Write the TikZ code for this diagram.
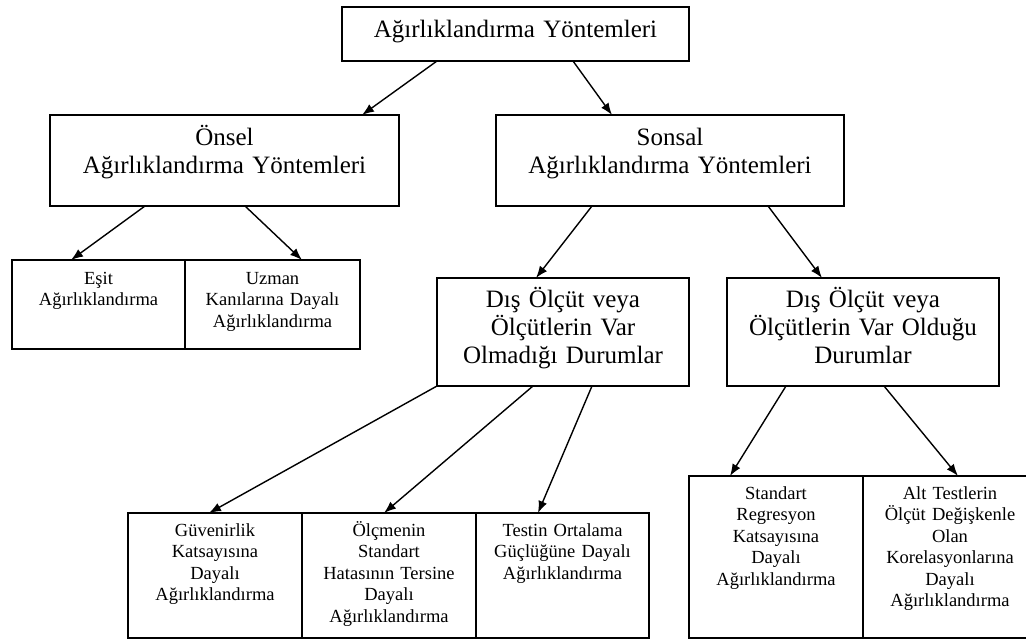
\documentclass[tikz,border=0pt]{standalone}
\usepackage{fontspec}
\setmainfont{Liberation Serif}
\usetikzlibrary{arrows.meta}
\tikzset{
  box/.style={draw, line width=1.5pt, inner sep=0pt, outer sep=0pt, align=center, anchor=north},
  big/.style={box, font=\fontsize{25}{28}\selectfont},
  small/.style={box, font=\fontsize{18.5}{21.5}\selectfont},
  conn/.style={line width=1.4pt, -{Latex[length=12pt,width=9pt]}}
}
\begin{document}
\begin{tikzpicture}[x=1pt,y=-1pt]
\useasboundingbox (0,0) rectangle (1026,640);
\clip (0,0) rectangle (1026,640);
% level 0
\node[big, text width=347pt, text height=30pt, text depth=24pt] (top) at (515.5,7) {Ağırlıklandırma Yöntemleri};
% level 1
\node[big, text width=349pt, text height=30pt, text depth=61pt] (onsel) at (224.5,115) {Önsel\\Ağırlıklandırma Yöntemleri};
\node[big, text width=348pt, text height=30pt, text depth=61pt] (sonsal) at (670,115) {Sonsal\\Ağırlıklandırma Yöntemleri};
% level 2 left
\node[small, text width=173pt, text height=24pt, text depth=65pt] (esit) at (98.5,260) {Eşit\\Ağırlıklandırma};
\node[small, text width=175pt, text height=24pt, text depth=65pt] (uzman) at (272.5,260) {Uzman\\Kanılarına Dayalı\\Ağırlıklandırma};
% level 2 right
\node[big, text width=252pt, text height=29pt, text depth=79pt] (dis1) at (563,278) {Dış Ölçüt veya\\Ölçütlerin Var\\Olmadığı Durumlar};
\node[big, text width=272pt, text height=29pt, text depth=79pt] (dis2) at (863,278) {Dış Ölçüt veya\\Ölçütlerin Var Olduğu\\Durumlar};
% level 3
\node[small, text width=174pt, text height=23pt, text depth=102pt] (guv) at (215,513) {Güvenirlik\\Katsayısına\\Dayalı\\Ağırlıklandırma};
\node[small, text width=174pt, text height=23pt, text depth=102pt] (olc) at (389,513) {Ölçmenin\\Standart\\Hatasının Tersine\\Dayalı\\Ağırlıklandırma};
\node[small, text width=173pt, text height=23pt, text depth=102pt] (test) at (562.5,513) {Testin Ortalama\\Güçlüğüne Dayalı\\Ağırlıklandırma};
\node[small, text width=174pt, text height=23pt, text depth=139pt] (std) at (776,476) {Standart\\Regresyon\\Katsayısına\\Dayalı\\Ağırlıklandırma};
\node[small, text width=174pt, text height=23pt, text depth=139pt] (alt) at (950,476) {Alt Testlerin\\Ölçüt Değişkenle\\Olan\\Korelasyonlarına\\Dayalı\\Ağırlıklandırma};
% connectors
\draw[conn] ([xshift=95pt]top.south west) -- ([xshift=312pt]onsel.north west);
\draw[conn] ([xshift=231pt]top.south west) -- ([xshift=116pt]sonsal.north west);
\draw[conn] ([xshift=95pt]onsel.south west) -- ([xshift=59pt]esit.north west);
\draw[conn] ([xshift=195pt]onsel.south west) -- ([xshift=117pt]uzman.north west);
\draw[conn] ([xshift=96pt]sonsal.south west) -- ([xshift=99pt]dis1.north west);
\draw[conn] ([xshift=272pt]sonsal.south west) -- ([xshift=95pt]dis2.north west);
\draw[conn] (dis1.south west) -- ([xshift=81pt]guv.north west);
\draw[conn] ([xshift=96pt]dis1.south west) -- ([xshift=82pt]olc.north west);
\draw[conn] ([xshift=155pt]dis1.south west) -- ([xshift=62pt]test.north west);
\draw[conn] ([xshift=59pt]dis2.south west) -- ([xshift=41pt]std.north west);
\draw[conn] ([xshift=157pt]dis2.south west) -- ([xshift=95pt]alt.north west);
\end{tikzpicture}
\end{document}
